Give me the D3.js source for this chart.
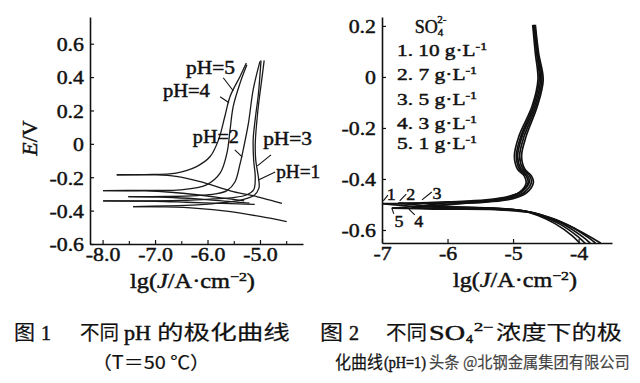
<!DOCTYPE html>
<html><head><meta charset="utf-8">
<script src="https://cdn.jsdelivr.net/npm/d3@7"></script>
<style>body{margin:0;background:#fff}svg{display:block}</style>
</head><body>
<svg id="c" width="640" height="383"></svg>
<script>
// ---------------- DATA ----------------
// Figure 1: polarization curves at different pH  (lgJ, E)
const fig1Series = ["pH=1", "pH=2", "pH=3", "pH=4", "pH=5"];
const ph1Anodic = [[-7.42,-0.376],[-6.8,-0.372],[-6.2,-0.365],[-5.7,-0.352],[-5.35,-0.335],[-5.12,-0.31],[-5.02,-0.265],[-5.03,-0.2],[-5.08,-0.1],[-5.09,0.0],[-5.04,0.2],[-4.96,0.4],[-4.92,0.5]];
const ph1Cathodic = [[-7.42,-0.376],[-6.8,-0.378],[-6.2,-0.386],[-5.6,-0.405],[-5.0,-0.435],[-4.49,-0.466]];
const ph2Anodic = [[-7.51,-0.316],[-6.8,-0.315],[-6.2,-0.31],[-5.85,-0.3],[-5.63,-0.28],[-5.48,-0.23],[-5.38,-0.12],[-5.32,-0.036],[-5.22,0.124],[-5.13,0.324],[-5.0,0.494]];
const ph2Cathodic = [[-7.51,-0.316],[-6.8,-0.32],[-6.2,-0.33],[-5.6,-0.345],[-5.2,-0.355]];
const ph3Anodic = [[-7.99,-0.342],[-7.0,-0.342],[-6.4,-0.338],[-5.9,-0.33],[-5.5,-0.322],[-5.25,-0.305],[-5.12,-0.275],[-5.09,-0.2],[-5.12,-0.1],[-5.13,0.024],[-5.09,0.15],[-5.03,0.3],[-4.98,0.5]];
const ph3Cathodic = [[-7.99,-0.342],[-7.0,-0.344],[-6.4,-0.35],[-5.9,-0.355],[-5.4,-0.36],[-5.1,-0.362]];
const ph4Anodic = [[-7.99,-0.28],[-7.2,-0.279],[-6.52,-0.276],[-6.02,-0.246],[-5.76,-0.176],[-5.63,-0.056],[-5.57,0.084],[-5.51,0.224],[-5.38,0.364],[-5.25,0.474]];
const ph4Cathodic = [[-7.99,-0.28],[-7.2,-0.282],[-6.7,-0.29],[-6.2,-0.305],[-5.7,-0.325],[-5.3,-0.342]];
const ph5Anodic = [[-7.73,-0.185],[-7.2,-0.184],[-6.6,-0.175],[-6.21,-0.136],[-5.95,-0.076],[-5.79,0.024],[-5.67,0.164],[-5.57,0.284],[-5.38,0.404],[-5.26,0.484]];
const ph5Cathodic = [[-7.73,-0.185],[-7.0,-0.186],[-6.6,-0.195],[-6.14,-0.226],[-5.51,-0.286],[-5.06,-0.316],[-4.58,-0.356]];

const fig1XTicks = [-8, -7, -6, -5];
const fig1XTickLabels = ["-8.0", "-7.0", "-6.0", "-5.0"];
const fig1XMinor = [-7.5, -6.5, -5.5, -4.5];
const fig1YTicks = [0.6, 0.4, 0.2, 0, -0.2, -0.4, -0.6];
const fig1YTickLabels = ["0.6", "0.4", "0.2", "0", "-0.2", "-0.4", "-0.6"];

// Figure 2: polarization curves at different SO4 2- concentrations (pH=1)
const fig2Series = ["1", "2", "3", "4", "5"];
const fig2Conc = ["10", "7", "5", "3", "1"];
const so4Anodic1 = [[-7.0,-0.497],[-6.0,-0.494],[-5.45,-0.487],[-5.10,-0.474],[-4.90,-0.452],[-4.80,-0.415],[-4.83,-0.388],[-4.93,-0.362],[-4.98,-0.31],[-4.91,-0.232],[-4.71,-0.115],[-4.62,-0.012],[-4.66,0.093],[-4.70,0.204]];
const so4Cathodic1 = [[-7.0,-0.497],[-6.5,-0.508],[-6.0,-0.512],[-5.35,-0.514],[-4.86,-0.524],[-4.62,-0.543],[-4.36,-0.575],[-4.10,-0.622],[-3.98,-0.652]];
const so4Anodic2 = [[-6.75,-0.495],[-6.0,-0.492],[-5.43,-0.485],[-5.08,-0.471],[-4.87,-0.449],[-4.77,-0.413],[-4.80,-0.388],[-4.90,-0.362],[-4.95,-0.31],[-4.88,-0.232],[-4.69,-0.115],[-4.60,-0.012],[-4.64,0.093],[-4.69,0.204]];
const so4Cathodic2 = [[-6.75,-0.495],[-6.3,-0.506],[-6.0,-0.51],[-5.33,-0.514],[-4.82,-0.526],[-4.56,-0.546],[-4.28,-0.578],[-4.02,-0.624],[-3.90,-0.652]];
const so4Anodic3 = [[-6.4,-0.494],[-6.0,-0.49],[-5.41,-0.482],[-5.06,-0.468],[-4.85,-0.446],[-4.75,-0.41],[-4.78,-0.386],[-4.88,-0.36],[-4.93,-0.31],[-4.86,-0.232],[-4.67,-0.115],[-4.58,-0.012],[-4.63,0.093],[-4.68,0.204]];
const so4Cathodic3 = [[-6.4,-0.494],[-6.1,-0.505],[-5.8,-0.51],[-5.31,-0.515],[-4.78,-0.528],[-4.50,-0.549],[-4.20,-0.582],[-3.93,-0.628],[-3.82,-0.652]];
const so4Anodic4 = [[-6.55,-0.513],[-6.2,-0.505],[-5.8,-0.496],[-5.39,-0.488],[-5.03,-0.474],[-4.82,-0.45],[-4.72,-0.412],[-4.75,-0.386],[-4.85,-0.36],[-4.90,-0.31],[-4.83,-0.232],[-4.65,-0.115],[-4.56,-0.012],[-4.62,0.093],[-4.67,0.204]];
const so4Cathodic4 = [[-6.55,-0.513],[-6.0,-0.516],[-5.29,-0.518],[-4.74,-0.53],[-4.44,-0.552],[-4.12,-0.586],[-3.85,-0.63],[-3.74,-0.652]];
const so4Anodic5 = [[-6.85,-0.514],[-6.4,-0.507],[-5.9,-0.498],[-5.37,-0.49],[-5.0,-0.477],[-4.79,-0.453],[-4.69,-0.414],[-4.72,-0.388],[-4.82,-0.362],[-4.87,-0.31],[-4.80,-0.232],[-4.63,-0.115],[-4.54,-0.012],[-4.61,0.093],[-4.66,0.204]];
const so4Cathodic5 = [[-6.85,-0.514],[-6.2,-0.518],[-5.27,-0.52],[-4.70,-0.533],[-4.38,-0.556],[-4.05,-0.595],[-3.80,-0.63],[-3.66,-0.652]];

const fig2XTicks = [-7, -6, -5, -4];
const fig2XTickLabels = ["-7", "-6", "-5", "-4"];
const fig2YTicks = [0.2, 0, -0.2, -0.4, -0.6];
const fig2YTickLabels = ["0.2", "0", "-0.2", "-0.4", "-0.6"];

// ---------------- DRAWING ----------------
const SERIF = "'Liberation Serif','Times New Roman',serif";
const CJK = "'Noto Sans CJK SC','Noto Sans CJK JP',sans-serif";
const INK = "#111";
const THICK = 0.45;   // extra stroke to mimic heavy print
const svg = d3.select("#c");

const xL = d3.scaleLinear().domain([-8.24, -4.18]).range([90, 303]);
const yL = d3.scaleLinear().domain([-0.6, 0.76]).range([244, 17]);
const xR = d3.scaleLinear().domain([-7, -3.49]).range([382, 612]);
const yR = d3.scaleLinear().domain([-0.651, 0.235]).range([243, 17]);

function fitText(x, y, anchor, targetW, build, parent) {
  const g = (parent || svg).append("g").attr("transform", `translate(${x},${y})`);
  const t = g.append("text").attr("text-anchor", anchor).attr("fill", INK)
    .attr("stroke", INK).attr("stroke-width", THICK);
  build(t);
  if (targetW) {
    const w = t.node().getBBox().width;
    if (w > 0) t.attr("transform", `scale(${targetW / w},1)`);
  }
  return t;
}

function drawAxes(xs, ys, xt, xtl, xminor, yt, ytl) {
  const by = ys.range()[0], lx = xs.range()[0];
  const k = 1.15;
  const gx = svg.append("g").attr("transform", `translate(0,${by})`)
    .call(d3.axisBottom(xs).tickValues(xt).tickFormat((d, i) => xtl[i]).tickSizeInner(-4).tickSizeOuter(0));
  gx.attr("color", INK).attr("font-family", SERIF).attr("font-size", 19);
  gx.select(".domain").attr("stroke-width", 1.6);
  gx.selectAll(".tick line").attr("stroke-width", 1.2);
  gx.selectAll("text").attr("y", 16.5).attr("dy", 0).attr("transform", `scale(${k},1)`)
    .attr("stroke", INK).attr("stroke-width", THICK);
  if (xminor) {
    svg.append("g").attr("transform", `translate(0,${by})`)
      .call(d3.axisBottom(xs).tickValues(xminor).tickFormat("").tickSizeInner(-3).tickSizeOuter(0))
      .attr("color", INK)
      .call(g => g.select(".domain").remove())
      .selectAll(".tick line").attr("stroke-width", 1.1);
  }
  const gy = svg.append("g").attr("transform", `translate(${lx},0)`)
    .call(d3.axisLeft(ys).tickValues(yt).tickFormat((d, i) => ytl[i]).tickSizeInner(-4).tickSizeOuter(0));
  gy.attr("color", INK).attr("font-family", SERIF).attr("font-size", 19);
  gy.select(".domain").attr("stroke-width", 1.6);
  gy.selectAll(".tick line").attr("stroke-width", 1.2);
  gy.selectAll("text").attr("x", -6 / k).attr("dy", "0.36em").attr("transform", `scale(${k},1)`)
    .attr("stroke", INK).attr("stroke-width", THICK);
}

drawAxes(xL, yL, fig1XTicks, fig1XTickLabels, fig1XMinor, fig1YTicks, fig1YTickLabels);
drawAxes(xR, yR, fig2XTicks, fig2XTickLabels, null, fig2YTicks, fig2YTickLabels);

// ---- figure 1 curves
const lineL = d3.line().x(d => xL(d[0])).y(d => yL(d[1])).curve(d3.curveCatmullRom.alpha(0.5));
const fig1Curves = [ph1Anodic, ph1Cathodic, ph2Anodic, ph2Cathodic, ph3Anodic, ph3Cathodic, ph4Anodic, ph4Cathodic, ph5Anodic, ph5Cathodic];
svg.append("g").selectAll("path").data(fig1Curves).join("path")
  .attr("d", lineL).attr("fill", "none").attr("stroke", "#1a1a1a").attr("stroke-width", 1.3);

// fig 1 labels: [text, textX(lgJ), baseline(E), leaderFrom, leaderTo, width]
const fig1Notes = [
  [fig1Series[4], -6.41, 0.42, [-5.70, 0.396], [-5.51, 0.318], 49],
  [fig1Series[3], -6.85, 0.282, [-5.76, 0.282], [-5.59, 0.246], 47],
  [fig1Series[1], -6.28, 0.006, [-5.48, -0.036], [-5.34, -0.078], 46],
  [fig1Series[2], -4.94, -0.006, [-4.79, -0.066], [-5.05, -0.132], 49],
  [fig1Series[0], -4.69, -0.204, [-4.71, -0.168], [-5.03, -0.216], 44]
];
fig1Notes.forEach(n => {
  svg.append("line").attr("x1", xL(n[3][0])).attr("y1", yL(n[3][1]))
    .attr("x2", xL(n[4][0])).attr("y2", yL(n[4][1])).attr("stroke", INK).attr("stroke-width", 1.1);
  fitText(xL(n[1]), yL(n[2]), "start", n[5], t => t.attr("font-family", SERIF).attr("font-size", 18).text(n[0]));
});

// axis titles
fitText(37, 138, "middle", null, t => {
  t.attr("font-family", SERIF).attr("font-size", 22);
  t.append("tspan").attr("font-style", "italic").text("E");
  t.append("tspan").text("/V");
}).node().parentNode.setAttribute("transform", "translate(37,138) rotate(-90)");

function xTitle(cx, by, w) {
  fitText(cx, by, "middle", w, t => {
    t.attr("font-family", SERIF).attr("font-size", 20);
    t.append("tspan").text("lg(");
    t.append("tspan").attr("font-style", "italic").text("J");
    t.append("tspan").text("/A·cm");
    t.append("tspan").attr("font-size", 13).attr("dy", -7).text("−2");
    t.append("tspan").attr("dy", 7).text(")");
  });
}
xTitle(192.5, 288, 125);
xTitle(515, 287, 124);

// ---- figure 2 curves
const lineR = d3.line().x(d => xR(d[0])).y(d => yR(d[1])).curve(d3.curveCatmullRom.alpha(0.5));
const fig2Curves = [so4Anodic1, so4Cathodic1, so4Anodic2, so4Cathodic2, so4Anodic3, so4Cathodic3, so4Anodic4, so4Cathodic4, so4Anodic5, so4Cathodic5];
svg.append("g").selectAll("path").data(fig2Curves).join("path")
  .attr("d", lineR).attr("fill", "none").attr("stroke", "#111").attr("stroke-width", 1.7);

// curve number labels: [text, x(lgJ), baseline(E), leaderFrom, leaderTo]
const fig2Notes = [
  [fig2Series[0], -6.86, -0.482, [-6.91, -0.463], [-6.98, -0.486]],
  [fig2Series[1], -6.56, -0.482, [-6.63, -0.459], [-6.73, -0.486]],
  [fig2Series[2], -6.16, -0.478, [-6.24, -0.451], [-6.39, -0.482]],
  [fig2Series[4], -6.74, -0.588, [-6.82, -0.537], [-6.85, -0.514]],
  [fig2Series[3], -6.44, -0.588, [-6.50, -0.541], [-6.59, -0.518]]
];
fig2Notes.forEach(n => {
  svg.append("line").attr("x1", xR(n[3][0])).attr("y1", yR(n[3][1]))
    .attr("x2", xR(n[4][0])).attr("y2", yR(n[4][1])).attr("stroke", INK).attr("stroke-width", 1.1);
  fitText(xR(n[1]), yR(n[2]), "middle", 9, t => t.attr("font-family", SERIF).attr("font-size", 16).text(n[0]));
});

// legend
fitText(xR(-6.50), yR(0.174), "start", null, t => {
  t.attr("font-family", SERIF).attr("font-size", 18);
  t.append("tspan").text("SO");
  t.append("tspan").attr("font-size", 11).attr("dy", 3.5).text("4");
  t.append("tspan").attr("font-size", 11).attr("dx", -6).attr("dy", -13.5).text("2-");
});
const legendE = [0.084, -0.012, -0.110, -0.204, -0.282];
fig2Conc.forEach((c, i) => {
  fitText(xR(-6.77), yR(legendE[i]), "start", i === 0 ? 90 : 80, t => {
    t.attr("font-family", SERIF).attr("font-size", 17);
    t.append("tspan").text(`${i + 1}. ${c} g·L`);
    t.append("tspan").attr("font-size", 11).attr("dy", -6).text("-1");
  });
});

// ---- captions
function cjk(x, y, w, s, size) {
  fitText(x, y, "start", w, t => t.attr("font-family", CJK).attr("font-size", size || 20).attr("stroke-width", 0.2).text(s));
}
function lat(x, y, w, s, size) {
  fitText(x, y, "start", w, t => t.attr("font-family", SERIF).attr("font-size", size || 20).text(s));
}
cjk(14, 340, 21, "图");
lat(41, 340, 10, "1");
cjk(80, 340, 39, "不同");
lat(124, 340, 27, "pH");
cjk(157, 340, 133, "的极化曲线");
cjk(320, 340, 23, "图");
lat(349, 340, 10, "2");
cjk(386, 340, 41, "不同");
lat(429, 340, 36, "SO");
lat(466, 343, 7, "4", 12);
lat(474, 331, 20, "2−", 12);
cjk(496, 340, 126, "浓度下的极");
cjk(92, 369, 118, "（T＝50 ℃）", 18);
cjk(335, 369, 48, "化曲线", 18);
lat(384, 368, 42, "(pH=1)", 16);
fitText(429, 368, "start", 201, t => t.attr("font-family", CJK).attr("font-size", 16)
  .attr("fill", "#444").attr("stroke", "#444").attr("stroke-width", 0.2)
  .text("头条 @北钢金属集团有限公司"));
</script>
</body></html>
